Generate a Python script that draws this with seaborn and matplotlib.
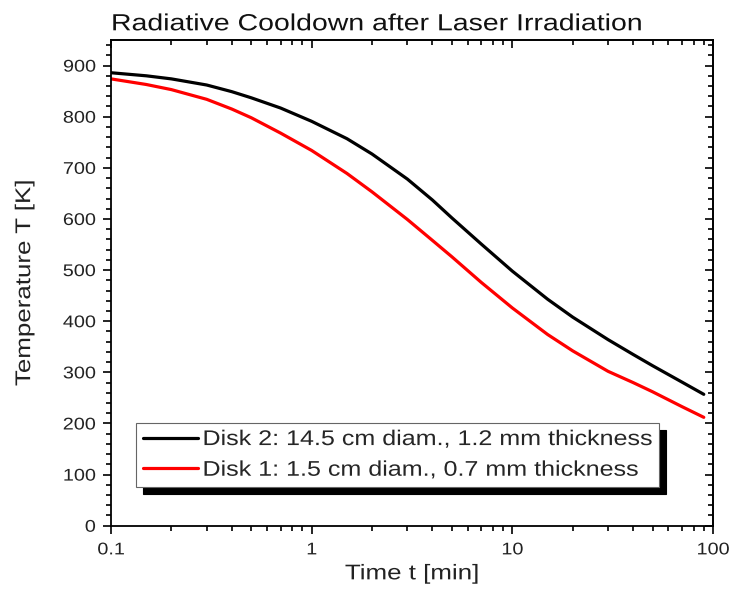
import numpy as np
import pandas as pd
import matplotlib
matplotlib.use("Agg")
import matplotlib.pyplot as plt
import seaborn as sns
from matplotlib.ticker import MultipleLocator, LogLocator, FixedLocator, NullFormatter
from matplotlib.patheffects import AbstractPathEffect
from matplotlib.transforms import Affine2D

# ---- data ----
time_min = [0.1, 0.15, 0.2, 0.3, 0.4, 0.5, 0.7, 1, 1.5, 2, 3, 4, 5, 7, 10, 15, 20, 30, 40, 50, 70, 90]
disk2_T = [886, 880, 874, 862, 849, 837, 817, 791, 757, 727, 678, 637, 602, 551, 498, 443, 408, 364, 335, 313, 281, 257]
disk1_T = [874, 863, 853, 834, 815, 798, 768, 734, 689, 653, 599, 558, 526, 476, 426, 374, 342, 302, 280, 262, 233, 212]
labels = ["Disk 2: 14.5 cm diam., 1.2 mm thickness",
          "Disk 1: 1.5 cm diam., 0.7 mm thickness"]
x_ticks = [0.1, 1, 10, 100]
x_ticklabels = ["0.1", "1", "10", "100"]
y_ticks = [0, 100, 200, 300, 400, 500, 600, 700, 800, 900]

df = pd.concat([
    pd.DataFrame({"t": time_min, "T": disk2_T, "series": labels[0]}),
    pd.DataFrame({"t": time_min, "T": disk1_T, "series": labels[1]}),
], ignore_index=True)


class HStretch(AbstractPathEffect):
    """Draw text glyphs horizontally widened (reference font is wide)."""
    def __init__(self, sx=1.2, anchor="center"):
        super().__init__()
        self.sx = sx
        self.anchor = anchor

    def draw_path(self, renderer, gc, tpath, affine, rgbFace=None):
        v = tpath.vertices
        if len(v) == 0:
            return
        xmin, xmax = v[:, 0].min(), v[:, 0].max()
        if self.anchor == "left":
            cx = 0.0
        elif self.anchor == "right":
            cx = xmax
        else:
            cx = 0.5 * (xmin + xmax)
        st = Affine2D().translate(-cx, 0).scale(self.sx, 1.0).translate(cx, 0)
        renderer.draw_path(gc, tpath, st + affine, rgbFace)


sns.set_theme(style="ticks")
plt.rcParams["font.family"] = ["Liberation Sans", "DejaVu Sans"]

fig = plt.figure(figsize=(7.32, 6.00), dpi=100)
ax = fig.add_axes([0.1516, 0.1238, 0.8224, 0.8095])

sns.lineplot(data=df, x="t", y="T", hue="series", hue_order=labels,
             palette=["#000000", "#ff0000"], linewidth=2.3, ax=ax,
             estimator=None, sort=True)

ax.set_xscale("log")
ax.set_xlim(0.1, 100)
ax.set_ylim(0, 950)
ax.xaxis.set_major_locator(FixedLocator(x_ticks))
ax.set_xticklabels(x_ticklabels)
ax.xaxis.set_minor_locator(LogLocator(base=10, subs=np.arange(2, 10)))
ax.xaxis.set_minor_formatter(NullFormatter())
ax.yaxis.set_major_locator(FixedLocator(y_ticks))
ax.yaxis.set_minor_locator(MultipleLocator(20))

for s in ax.spines.values():
    s.set_color("black")
    s.set_linewidth(1.3)

ax.tick_params(axis="both", which="both", color="black", width=1.2,
               labelsize=12.2, labelcolor="#222222")
ax.tick_params(which="major", length=6)
ax.tick_params(which="minor", length=3.5)
ax.tick_params(axis="x", which="both", direction="out", bottom=True, top=False, pad=6)
ax.tick_params(axis="y", which="both", direction="out", left=True, right=False, pad=5)

# inward ticks on top and right
ax_top = ax.secondary_xaxis("top")
ax_top.set_xticks(x_ticks)
ax_top.xaxis.set_minor_locator(LogLocator(base=10, subs=np.arange(2, 10)))
ax_top.xaxis.set_minor_formatter(NullFormatter())
ax_top.tick_params(which="both", direction="in", labeltop=False, color="black", width=1.2)
ax_top.tick_params(which="major", length=6)
ax_top.tick_params(which="minor", length=3.5)
ax_top.spines["top"].set_linewidth(1.3)

ax_r = ax.secondary_yaxis("right")
ax_r.set_yticks(y_ticks)
ax_r.yaxis.set_minor_locator(MultipleLocator(20))
ax_r.tick_params(which="both", direction="in", labelright=False, color="black", width=1.2)
ax_r.tick_params(which="major", length=6)
ax_r.tick_params(which="minor", length=3.5)
ax_r.spines["right"].set_linewidth(1.3)

xl = ax.set_xlabel("Time t [min]", fontsize=15.3, color="#222222", labelpad=5)
yl = ax.set_ylabel("Temperature T [K]", fontsize=15.3, color="#222222", labelpad=24)
tt = ax.set_title("Radiative Cooldown after Laser Irradiation", fontsize=16.8,
                  loc="left", color="#111111", pad=7)
xl.set_path_effects([HStretch(1.22, "center")])
yl.set_path_effects([HStretch(1.22, "center")])
tt.set_path_effects([HStretch(1.22, "left")])

for tk in ax.xaxis.get_major_ticks():
    tk.label1.set_path_effects([HStretch(1.17, "center")])
for tk in ax.yaxis.get_major_ticks():
    tk.label1.set_path_effects([HStretch(1.17, "right")])

handles, lbls = ax.get_legend_handles_labels()
leg = ax.legend(handles, lbls, loc="upper left",
                bbox_to_anchor=(0.0415, 0.0, 0.8688, 0.2114), mode="expand",
                borderaxespad=0, fontsize=15.3, frameon=True, fancybox=False,
                handlelength=2.6, handletextpad=0.2, borderpad=0.33,
                labelspacing=0.55,
                shadow={"color": "black", "alpha": 1, "ox": 5, "oy": -5})
leg.get_frame().set_edgecolor("#666666")
leg.get_frame().set_linewidth(0.8)
leg.get_frame().set_facecolor("white")
for line in leg.get_lines():
    line.set_linewidth(2.3)
for txt in leg.get_texts():
    txt.set_path_effects([HStretch(1.18, "left")])

fig.savefig("out.png", dpi=100)
